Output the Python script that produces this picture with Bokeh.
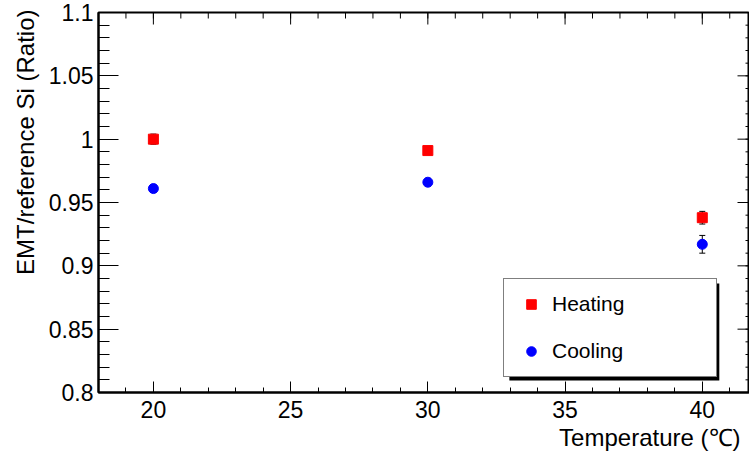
import numpy as np
from bokeh.plotting import figure
from bokeh.models import (Range1d, LinearAxis, FixedTicker, ColumnDataSource, Whisker,
                          TeeHead, Legend, LegendItem, Title, BoxAnnotation)
from bokeh.embed import file_html
from bokeh.resources import INLINE

# ---- data ----
temperature = [20, 30, 40]
heating = [1.000, 0.991, 0.938]
heating_err = [0.004, 0.003, 0.005]
cooling = [0.961, 0.966, 0.917]
cooling_err = [0.003, 0.003, 0.007]
series_names = ["Heating", "Cooling"]

x_ticks = [20, 25, 30, 35, 40]
x_tick_labels = ["20", "25", "30", "35", "40"]
y_ticks = [0.8, 0.85, 0.9, 0.95, 1.0, 1.05, 1.1]
y_tick_labels = ["0.8", "0.85", "0.9", "0.95", "1", "1.05", "1.1"]
x_title = "Temperature (℃)"
y_title = "EMT/reference Si (Ratio)"

FONT = "Liberation Sans"
X0, X1 = 18, 41.72
Y0, Y1 = 0.8, 1.1

p = figure(width=749, height=460, output_backend="svg", toolbar_location=None,
           x_range=Range1d(X0, X1), y_range=Range1d(Y0, Y1),
           x_axis_location=None, y_axis_location=None,
           min_border_left=98, min_border_top=12, min_border_right=0, min_border_bottom=68)
p.xgrid.visible = False
p.ygrid.visible = False
p.outline_line_color = "black"
p.outline_line_width = 2
p.background_fill_color = "white"
p.border_fill_color = "white"

x_minor = list(range(18, 42))
y_minor = [float(v) for v in np.round(np.arange(0.8, 1.1001, 0.01), 2)]
xt = FixedTicker(ticks=x_ticks, minor_ticks=x_minor)
yt = FixedTicker(ticks=y_ticks, minor_ticks=y_minor)


def style_axis(ax, major_in, minor_in):
    ax.axis_line_color = "black"
    ax.axis_line_width = 2
    ax.major_tick_line_color = "black"
    ax.minor_tick_line_color = "black"
    ax.major_tick_line_width = 1
    ax.minor_tick_line_width = 1
    ax.major_tick_in = major_in
    ax.major_tick_out = 0
    ax.minor_tick_in = minor_in
    ax.minor_tick_out = 0
    ax.major_label_text_font = FONT
    ax.major_label_text_font_size = "23px"
    ax.major_label_text_color = "black"


bottom = LinearAxis(ticker=xt, major_label_overrides=dict(zip(x_ticks, x_tick_labels)))
style_axis(bottom, 11, 5)
bottom.major_label_standoff = 8
p.add_layout(bottom, "below")

left = LinearAxis(ticker=yt, major_label_overrides=dict(zip(y_ticks, y_tick_labels)))
style_axis(left, 20, 11)
left.major_label_standoff = 5
p.add_layout(left, "left")

p.add_layout(Title(text=x_title, align="right", text_font=FONT, text_font_size="24px",
                   text_font_style="normal", text_color="black", offset=9, standoff=2), "below")
p.add_layout(Title(text=y_title, align="right", text_font=FONT, text_font_size="24px",
                   text_font_style="normal", text_color="black", offset=-3, standoff=13), "left")

# mirrored ticks on the top and right frame edges (half of each dash is clipped by the frame)
p.scatter(x=x_minor, y=[Y1] * len(x_minor), marker="dash", angle=np.pi / 2, size=12,
          line_color="black", line_width=1)
p.scatter(x=x_ticks, y=[Y1] * len(x_ticks), marker="dash", angle=np.pi / 2, size=24,
          line_color="black", line_width=1)
p.scatter(x=[X1] * len(y_minor), y=y_minor, marker="dash", size=8,
          line_color="black", line_width=1)
p.scatter(x=[X1] * len(y_ticks), y=y_ticks, marker="dash", size=24,
          line_color="black", line_width=1)

hs = ColumnDataSource(dict(x=temperature, y=heating,
                           lo=[v - e for v, e in zip(heating, heating_err)],
                           hi=[v + e for v, e in zip(heating, heating_err)]))
cs = ColumnDataSource(dict(x=temperature, y=cooling,
                           lo=[v - e for v, e in zip(cooling, cooling_err)],
                           hi=[v + e for v, e in zip(cooling, cooling_err)]))

for src in (hs, cs):
    w = Whisker(base="x", upper="hi", lower="lo", source=src, dimension="height",
                line_color="black", line_width=1, level="underlay",
                upper_head=TeeHead(size=6, line_color="black", line_width=1),
                lower_head=TeeHead(size=6, line_color="black", line_width=1))
    p.add_layout(w)

r_heat = p.scatter("x", "y", source=hs, marker="square", size=10,
                   fill_color="#ff0000", line_color="#ff0000")
r_cool = p.scatter("x", "y", source=cs, marker="circle", size=10,
                   fill_color="#0000ff", line_color="#0000ff")

# legend drop shadow
shadow = BoxAnnotation(left=32.97, right=40.62, top=0.8861, bottom=0.8095,
                       fill_color="black", fill_alpha=1, line_color=None, level="overlay")
p.add_layout(shadow)

legend = Legend(items=[LegendItem(label=series_names[0], renderers=[r_heat]),
                       LegendItem(label=series_names[1], renderers=[r_cool])],
                location=(405, 15), margin=0, padding=13, spacing=23,
                glyph_width=28, glyph_height=24, label_height=24, label_width=151,
                label_standoff=7, label_text_font=FONT, label_text_font_size="21px",
                label_text_color="black", border_line_color="black", border_line_width=1,
                background_fill_color="white", background_fill_alpha=1)
p.add_layout(legend)

open("out.html", "w").write(file_html(p, INLINE))
